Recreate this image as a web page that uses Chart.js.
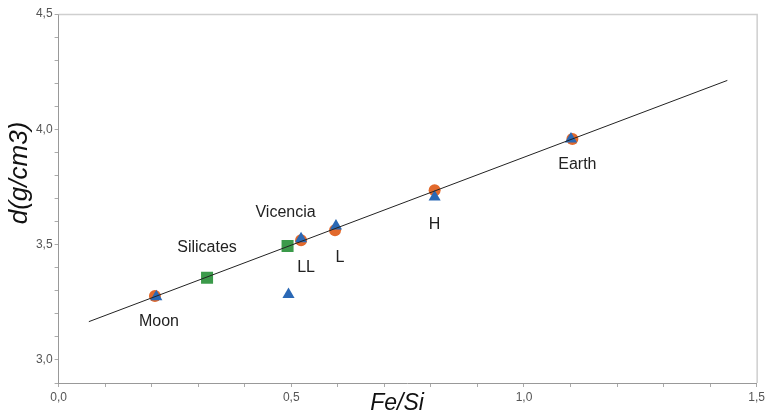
<!DOCTYPE html>
<html>
<head>
<meta charset="utf-8">
<script src="https://cdn.jsdelivr.net/npm/chart.js@4.4.1/dist/chart.umd.min.js"></script>
<style>
  html, body { margin: 0; padding: 0; background: #fff; }
  #wrap { width: 768px; height: 415px; position: relative; }
</style>
</head>
<body>
<div id="wrap"><canvas id="c" width="768" height="415"></canvas></div>
<script>
// ---- data ----
const circleX = [0.207, 0.521, 0.594, 0.808, 1.104];
const circleY = [3.277, 3.519, 3.562, 3.736, 3.958];
const triangleX = [0.210, 0.494, 0.521, 0.596, 0.808, 1.101];
const triangleY = [3.274, 3.284, 3.526, 3.581, 3.707, 3.958];
const squareX = [0.319, 0.492];
const squareY = [3.356, 3.494];
const fitX = [0.065, 1.437];
const fitY = [3.166, 4.212];
const xTitle = 'Fe/Si';
const yTitle = 'd(g/cm3)';
const pointNames = ['Moon', 'Silicates', 'Vicencia', 'LL', 'L', 'H', 'Earth'];

const FONT = '"Liberation Sans", Arial, sans-serif';
const toPts = (xs, ys) => xs.map((x, i) => ({ x: x, y: ys[i] }));
const fmt = v => (Math.abs(v * 2 - Math.round(v * 2)) < 1e-6) ? v.toFixed(1).replace('.', ',') : '';

// label anchors: [name index, dataset index, point index, dx, dy]
const labelAnchors = [
  [0, 2, 0, 4, 26],
  [1, 3, 0, 0, -30],
  [2, 3, 1, -2, -33],
  [3, 2, 1, 5, 27],
  [4, 2, 2, 5, 27],
  [5, 2, 3, 0, 34],
  [6, 2, 4, 5, 26]
];

const decor = {
  id: 'decor',
  afterDraw(chart) {
    const ctx = chart.ctx;
    const a = chart.chartArea;
    ctx.save();
    // top and right frame
    ctx.strokeStyle = '#cfcfcf';
    ctx.lineWidth = 1.5;
    ctx.beginPath();
    ctx.moveTo(a.left, a.top + 0.5);
    ctx.lineTo(a.right + 0.5, a.top + 0.5);
    ctx.lineTo(a.right + 0.5, a.bottom);
    ctx.stroke();
    // point labels
    ctx.fillStyle = '#222';
    ctx.font = '16px ' + FONT;
    ctx.textAlign = 'center';
    ctx.textBaseline = 'middle';
    labelAnchors.forEach(([n, d, p, dx, dy]) => {
      const el = chart.getDatasetMeta(d).data[p];
      ctx.fillText(pointNames[n], el.x + dx, el.y + dy);
    });
    // axis titles
    ctx.font = 'italic 23px ' + FONT;
    ctx.fillStyle = '#111';
    ctx.fillText(xTitle, 397, 404);
    ctx.translate(20, 173);
    ctx.rotate(-Math.PI / 2);
    ctx.font = 'italic 26px ' + FONT;
    ctx.fillText(yTitle, 0, 0);
    ctx.restore();
  }
};

new Chart(document.getElementById('c'), {
  type: 'scatter',
  data: {
    datasets: [
      {
        type: 'line', data: toPts(fitX, fitY), borderColor: '#222', borderWidth: 1,
        pointRadius: 0, fill: false, tension: 0
      },
      {
        data: toPts(triangleX, triangleY), pointStyle: 'triangle', pointRadius: 7,
        backgroundColor: '#2a68b5', borderWidth: 0
      },
      {
        data: toPts(circleX, circleY), pointStyle: 'circle', pointRadius: 6,
        backgroundColor: '#e2692c', borderWidth: 0
      },
      {
        data: toPts(squareX, squareY), pointStyle: 'rect', pointRadius: 8.5,
        backgroundColor: '#3b9a4a', borderWidth: 0
      }
    ]
  },
  options: {
    responsive: false,
    animation: false,
    layout: { padding: { top: 14, right: 9.4, left: 0, bottom: 0 } },
    plugins: { legend: { display: false }, tooltip: { enabled: false } },
    scales: {
      x: {
        type: 'linear', min: 0, max: 1.5,
        afterFit(s) { s.height = 32; },
        ticks: { stepSize: 0.1, autoSkip: false, maxRotation: 0, padding: 3, color: '#555',
                 font: { family: FONT, size: 12 }, callback: v => fmt(v) },
        grid: { drawOnChartArea: false, drawTicks: true, tickLength: 4, color: '#aaa' },
        border: { display: true, color: '#999' }
      },
      y: {
        type: 'linear', min: 2.9, max: 4.5,
        afterFit(s) { s.width = 58.6; },
        ticks: { stepSize: 0.1, autoSkip: false, padding: 2, color: '#555',
                 font: { family: FONT, size: 12 }, callback: v => fmt(v) },
        grid: { drawOnChartArea: false, drawTicks: true, tickLength: 4, color: '#aaa' },
        border: { display: true, color: '#999' }
      }
    }
  },
  plugins: [decor]
});
</script>
</body>
</html>
